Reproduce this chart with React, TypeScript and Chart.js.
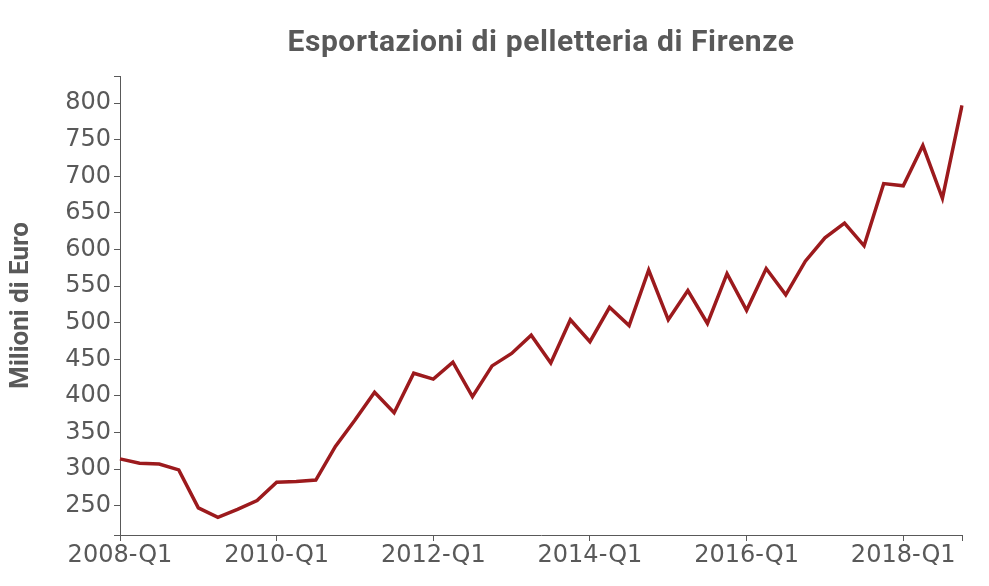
import React, { useEffect, useRef } from "react";
import { Chart, registerables } from "chart.js";
Chart.register(...registerables);

const quarters = [
  "2008-Q1", "2008-Q2", "2008-Q3", "2008-Q4",
  "2009-Q1", "2009-Q2", "2009-Q3", "2009-Q4",
  "2010-Q1", "2010-Q2", "2010-Q3", "2010-Q4",
  "2011-Q1", "2011-Q2", "2011-Q3", "2011-Q4",
  "2012-Q1", "2012-Q2", "2012-Q3", "2012-Q4",
  "2013-Q1", "2013-Q2", "2013-Q3", "2013-Q4",
  "2014-Q1", "2014-Q2", "2014-Q3", "2014-Q4",
  "2015-Q1", "2015-Q2", "2015-Q3", "2015-Q4",
  "2016-Q1", "2016-Q2", "2016-Q3", "2016-Q4",
  "2017-Q1", "2017-Q2", "2017-Q3", "2017-Q4",
  "2018-Q1", "2018-Q2", "2018-Q3", "2018-Q4",
];

const exportsValues = [
  314, 308, 307, 299,
  247, 234, 245, 257,
  282, 283, 285, 331,
  367, 405, 377, 431,
  423, 446, 399, 441,
  458, 483, 445, 504,
  474, 521, 496, 572,
  504, 544, 499, 567,
  517, 574, 538, 584,
  616, 636, 605, 690,
  687, 742, 670, 797,
];

const xTickLabels = ["2008-Q1", "2010-Q1", "2012-Q1", "2014-Q1", "2016-Q1", "2018-Q1"];
const yTicks = [250, 300, 350, 400, 450, 500, 550, 600, 650, 700, 750, 800];
const yMin = 210;
const yMax = 837;

const TITLE = "Esportazioni di pelletteria di Firenze";
const Y_TITLE = "Milioni di Euro";
const GREY = "#595959";
const LINE = "#9c1a1d";

export default function App() {
  const ref = useRef<HTMLCanvasElement | null>(null);

  useEffect(() => {
    document.body.style.margin = "0";
    const canvas = ref.current;
    if (!canvas) return;

    const titlePlugin = {
      id: "centerTitle",
      afterDraw(chart: any) {
        const { ctx, chartArea } = chart;
        ctx.save();
        ctx.font = "bold 30px Roboto";
        try {
          (ctx as any).letterSpacing = "0.6px";
        } catch (e) {}
        ctx.fillStyle = GREY;
        ctx.textAlign = "center";
        ctx.textBaseline = "alphabetic";
        ctx.fillText(TITLE, (chartArea.left + chartArea.right) / 2, 51);
        ctx.restore();
      },
    };

    const lastIdx = quarters.length - 1;
    const xTickIdx = [...xTickLabels.map((l) => quarters.indexOf(l)), lastIdx];

    const chart = new Chart(canvas, {
      type: "line",
      data: {
        labels: quarters,
        datasets: [
          {
            data: exportsValues,
            borderColor: LINE,
            borderWidth: 3.5,
            pointRadius: 0,
            tension: 0,
            fill: false,
          },
        ],
      },
      options: {
        responsive: false,
        animation: false,
        layout: { padding: { top: 76, right: 27, left: 0, bottom: 0 } },
        plugins: {
          legend: { display: false },
          title: { display: false },
          tooltip: { enabled: false },
        },
        scales: {
          x: {
            type: "category",
            offset: false,
            grid: {
              display: true,
              drawOnChartArea: false,
              drawTicks: true,
              tickLength: 6,
              color: GREY,
            },
            border: { display: true, color: GREY, width: 1 },
            ticks: {
              autoSkip: false,
              maxRotation: 0,
              minRotation: 0,
              padding: 0,
              color: GREY,
              font: { family: "DejaVu Sans", size: 24 },
              callback: (v: any) => {
                const label = quarters[v as number];
                return xTickLabels.includes(label) ? label : "";
              },
            },
            afterBuildTicks: (axis: any) => {
              axis.ticks = xTickIdx.map((v) => ({ value: v }));
            },
            afterFit: (axis: any) => {
              axis.height = 51;
            },
          },
          y: {
            type: "linear",
            min: yMin,
            max: yMax,
            grid: {
              display: true,
              drawOnChartArea: false,
              drawTicks: true,
              tickLength: 6,
              color: GREY,
            },
            border: { display: true, color: GREY, width: 1 },
            ticks: {
              padding: 3,
              color: GREY,
              font: { family: "DejaVu Sans", size: 24 },
              callback: (v: any) => (yTicks.includes(v as number) ? String(v) : ""),
            },
            afterBuildTicks: (axis: any) => {
              axis.ticks = [yMin, ...yTicks, yMax].map((v) => ({ value: v }));
            },
            afterFit: (axis: any) => {
              axis.width = 120;
            },
            title: {
              display: true,
              text: Y_TITLE,
              color: GREY,
              font: { family: "Roboto", size: 26, weight: "bold" },
              padding: { top: 6, bottom: 0 },
            },
          },
        },
      },
      plugins: [titlePlugin],
    });

    return () => chart.destroy();
  }, []);

  return (
    <div style={{ width: 989, height: 586 }}>
      <canvas ref={ref} width={989} height={586} />
    </div>
  );
}
